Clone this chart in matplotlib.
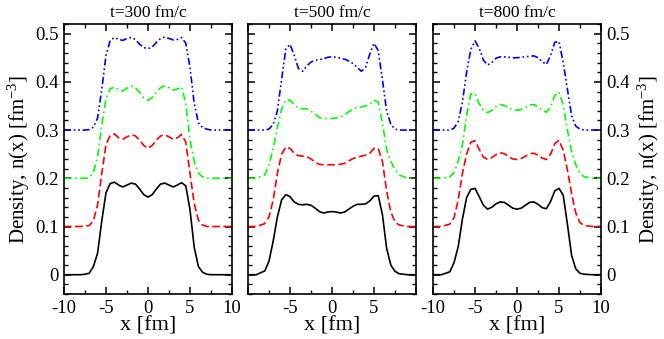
import matplotlib
matplotlib.use('Agg')
import matplotlib.pyplot as plt
from matplotlib.ticker import MultipleLocator, FixedLocator, FixedFormatter

plt.rcParams['font.family'] = ['Liberation Serif', 'DejaVu Serif']
plt.rcParams['mathtext.fontset'] = 'custom'
plt.rcParams['mathtext.rm'] = 'Liberation Serif'
plt.rcParams['mathtext.it'] = 'Liberation Serif:italic'
plt.rcParams['axes.unicode_minus'] = False
plt.rcParams['lines.scale_dashes'] = False

# position grid [fm]
x_fm = [-10, -9, -8, -7.5, -7, -6.5, -6, -5.5, -5, -4.5, -4, -3.5, -3, -2.5, -2, -1.5,
        -1, -0.5, 0, 0.5, 1, 1.5, 2, 2.5, 3, 3.5, 4, 4.5, 5, 5.5, 6, 6.5, 7, 7.5, 8, 9, 10]

# curves are shifted up by these amounts for clarity
offsets = [0.0, 0.1, 0.2, 0.3]
times = [300, 500, 800]

# t = 300 fm/c
t300_black = [0, 0, 0, 0.001, 0.003, 0.017, 0.045, 0.112, 0.170, 0.189, 0.192, 0.186, 0.182,
              0.186, 0.190, 0.188, 0.178, 0.166, 0.161, 0.166, 0.178, 0.188, 0.190, 0.186,
              0.182, 0.186, 0.191, 0.184, 0.135, 0.057, 0.017, 0.005, 0.001, 0, 0, 0, 0]
t300_red = [0, 0, 0, 0.001, 0.002, 0.012, 0.045, 0.110, 0.170, 0.189, 0.192, 0.184, 0.181,
            0.186, 0.190, 0.188, 0.179, 0.168, 0.162, 0.168, 0.179, 0.188, 0.190, 0.186,
            0.181, 0.184, 0.191, 0.175, 0.110, 0.048, 0.013, 0.003, 0, 0, 0, 0, 0]
t300_green = [0, 0, 0, 0, 0.001, 0.012, 0.045, 0.110, 0.165, 0.186, 0.189, 0.184, 0.181,
              0.187, 0.191, 0.188, 0.178, 0.167, 0.162, 0.167, 0.178, 0.188, 0.192, 0.188,
              0.183, 0.185, 0.190, 0.155, 0.080, 0.035, 0.011, 0.003, 0, 0, 0, 0, 0]
t300_blue = [0, 0, 0, 0, 0.001, 0.006, 0.025, 0.085, 0.155, 0.186, 0.192, 0.188, 0.186,
             0.190, 0.192, 0.188, 0.178, 0.171, 0.169, 0.172, 0.182, 0.190, 0.193, 0.190,
             0.187, 0.188, 0.192, 0.180, 0.130, 0.055, 0.015, 0.005, 0.002, 0, 0, 0, 0]

# t = 500 fm/c
t500_black = [0, 0, 0.008, 0.028, 0.070, 0.120, 0.155, 0.166, 0.162, 0.151, 0.146, 0.145,
              0.146, 0.144, 0.138, 0.131, 0.128, 0.130, 0.131, 0.130, 0.128, 0.130, 0.136,
              0.142, 0.146, 0.146, 0.147, 0.153, 0.163, 0.164, 0.125, 0.055, 0.020, 0.007,
              0.002, 0, 0]
t500_red = [0, 0, 0.006, 0.020, 0.055, 0.110, 0.150, 0.165, 0.162, 0.152, 0.147, 0.146,
            0.145, 0.140, 0.133, 0.129, 0.128, 0.128, 0.128, 0.128, 0.129, 0.131, 0.136,
            0.141, 0.144, 0.146, 0.148, 0.152, 0.162, 0.162, 0.135, 0.075, 0.030, 0.010,
            0.003, 0, 0]
t500_green = [0, 0, 0.007, 0.028, 0.062, 0.105, 0.143, 0.163, 0.162, 0.152, 0.146, 0.144,
              0.144, 0.139, 0.133, 0.126, 0.124, 0.124, 0.124, 0.125, 0.127, 0.132, 0.138,
              0.144, 0.147, 0.148, 0.150, 0.154, 0.162, 0.158, 0.115, 0.060, 0.035, 0.018,
              0.007, 0, 0]
t500_blue = [0, 0, 0, 0.002, 0.012, 0.040, 0.105, 0.168, 0.178, 0.155, 0.128, 0.122, 0.133,
             0.141, 0.145, 0.146, 0.148, 0.151, 0.152, 0.151, 0.149, 0.147, 0.143, 0.138,
             0.130, 0.122, 0.130, 0.158, 0.180, 0.165, 0.105, 0.040, 0.012, 0.002, 0, 0, 0]

# t = 800 fm/c
t800_black = [0, 0, 0.006, 0.025, 0.058, 0.115, 0.160, 0.177, 0.179, 0.162, 0.144, 0.136,
              0.140, 0.147, 0.151, 0.150, 0.144, 0.138, 0.136, 0.138, 0.144, 0.150, 0.151,
              0.146, 0.139, 0.137, 0.152, 0.174, 0.179, 0.165, 0.105, 0.040, 0.012, 0.003,
              0.001, 0, 0]
t800_red = [0, 0, 0.005, 0.018, 0.055, 0.110, 0.150, 0.175, 0.178, 0.160, 0.144, 0.139,
            0.143, 0.149, 0.153, 0.151, 0.145, 0.140, 0.139, 0.141, 0.146, 0.151, 0.152,
            0.148, 0.142, 0.139, 0.150, 0.172, 0.179, 0.158, 0.118, 0.068, 0.028, 0.008,
            0.002, 0, 0]
t800_green = [0, 0, 0.003, 0.012, 0.035, 0.070, 0.130, 0.175, 0.176, 0.155, 0.141, 0.136,
              0.141, 0.149, 0.153, 0.151, 0.146, 0.142, 0.141, 0.143, 0.147, 0.152, 0.153,
              0.148, 0.141, 0.137, 0.148, 0.172, 0.179, 0.152, 0.100, 0.055, 0.028, 0.010,
              0.003, 0, 0]
t800_blue = [0, 0, 0, 0.004, 0.018, 0.058, 0.120, 0.167, 0.185, 0.170, 0.145, 0.135, 0.140,
             0.149, 0.152, 0.152, 0.151, 0.150, 0.150, 0.151, 0.152, 0.153, 0.154, 0.150,
             0.142, 0.136, 0.155, 0.182, 0.184, 0.140, 0.085, 0.030, 0.008, 0.002, 0, 0, 0]

colors = ['black', '#ff0000', '#00ff00', '#0000ff']
styles = ['-', (0, (5.5, 2.5)), (0, (5.5, 2.5, 1.2, 2.5)), (0, (5, 2, 1.2, 2, 1.2, 2))]

y_ticks = [0, 0.1, 0.2, 0.3, 0.4, 0.5]
y_labels = ['0', '0.1', '0.2', '0.3', '0.4', '0.5']
x_ticks = [-10, -5, 0, 5, 10]

ylabel = 'Density, n(x) [fm$^{-3}$]'


def draw_panel(ax, t, curves, xlabels):
    for vals, off, c, ls in zip(curves, offsets, colors, styles):
        ax.plot(x_fm, [v + off for v in vals], color=c, ls=ls, lw=1.2)

    ax.set_xlim(-10, 10)
    ax.set_ylim(-0.04, 0.52)
    ax.xaxis.set_major_locator(FixedLocator(x_ticks))
    ax.xaxis.set_major_formatter(FixedFormatter(xlabels))
    ax.xaxis.set_minor_locator(MultipleLocator(2.5))
    ax.yaxis.set_major_locator(FixedLocator(y_ticks))
    ax.yaxis.set_minor_locator(MultipleLocator(0.02))
    ax.tick_params(which='both', direction='in', top=True, right=True,
                   labelsize=13.5, pad=4)
    ax.tick_params(which='major', length=5, width=1.1)
    ax.tick_params(which='minor', length=3, width=1.0)
    for s in ax.spines.values():
        s.set_linewidth(1.2)
    ax.set_title('t={} fm/c'.format(t), fontsize=12.5, pad=5)
    ax.set_xlabel('x [fm]', fontsize=16, labelpad=0)


if __name__ == '__main__':
    fig = plt.figure(figsize=(6.64, 3.39), dpi=100)
    left = [64 / 664, 248 / 664, 433 / 664]
    w = 168 / 664
    b = 1 - 294 / 339
    h = 270 / 339

    data = {300: [t300_black, t300_red, t300_green, t300_blue],
            500: [t500_black, t500_red, t500_green, t500_blue],
            800: [t800_black, t800_red, t800_green, t800_blue]}

    axes = []
    for i, t in enumerate(times):
        ax = fig.add_axes([left[i], b, w, h])
        if i == 1:
            xl = ['', '-5', '0', '5', '']
        else:
            xl = ['-10', '-5', '0', '5', '10']
        draw_panel(ax, t, data[t], xl)
        axes.append(ax)

    axes[0].yaxis.set_major_formatter(FixedFormatter(y_labels))
    axes[0].set_ylabel(ylabel, fontsize=15, labelpad=2)

    axes[1].set_yticklabels([])

    axes[2].tick_params(labelleft=False, labelright=True)
    axes[2].yaxis.set_major_formatter(FixedFormatter(y_labels))
    axes[2].yaxis.set_label_position('right')
    axes[2].set_ylabel(ylabel, fontsize=15, labelpad=4)

    fig.savefig('out.png', dpi=100)
